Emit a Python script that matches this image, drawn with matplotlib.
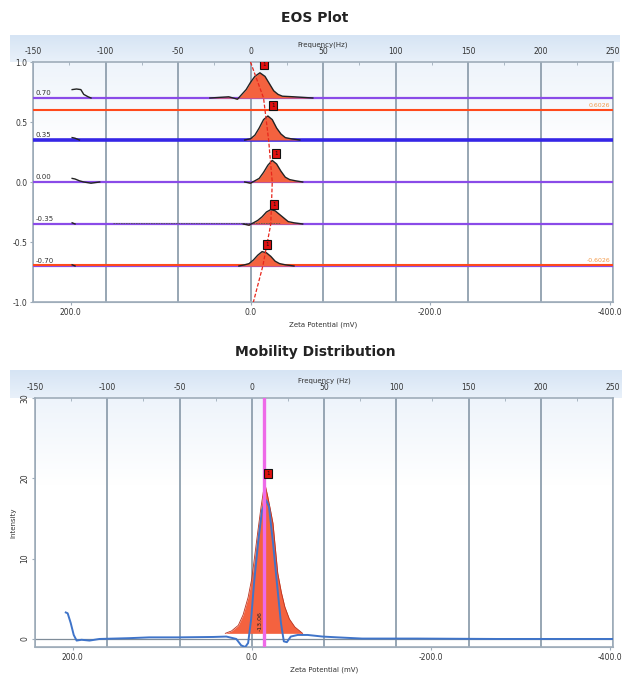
import numpy as np
import matplotlib.pyplot as plt
from matplotlib.colors import LinearSegmentedColormap

plt.rcParams["axes.unicode_minus"] = False

# frequency (Hz) per zeta potential (mV) (sign flips)
HZ_PER_MV = 0.62

# ---- EOS plot data ----
eos_levels = [0.70, 0.35, 0.00, -0.35, -0.70]
eos_level_labels = ["0.70", "0.35", "0.00", "-0.35", "-0.70"]

eos_peak_freq = [
    [-28, -15, -9, -6, -3, 0, 3, 6.5, 10, 13, 16, 19, 22, 30, 43],
    [-4, 0, 3, 6, 9, 12, 15, 18, 21, 24, 28, 34],
    [-4, 0, 3, 6, 9, 12, 15, 18, 21, 24, 27, 31, 36],
    [-5, -1, 2, 5, 8, 11, 14, 17, 20, 23, 26, 30, 36],
    [-8, -4, -1, 2, 5, 8, 11, 14, 17, 20, 24, 30],
]
eos_peak_height = [
    [0.0, 0.01, -0.01, 0.03, 0.07, 0.13, 0.18, 0.21, 0.18, 0.12, 0.06, 0.03, 0.015, 0.01, 0.0],
    [0.0, 0.01, 0.04, 0.10, 0.17, 0.20, 0.17, 0.10, 0.05, 0.02, 0.01, 0.0],
    [0.0, -0.01, 0.01, 0.03, 0.08, 0.14, 0.18, 0.15, 0.09, 0.04, 0.02, 0.01, 0.0],
    [0.0, -0.01, 0.01, 0.03, 0.06, 0.10, 0.12, 0.11, 0.08, 0.05, 0.02, 0.01, 0.0],
    [0.0, 0.01, 0.02, 0.05, 0.09, 0.12, 0.11, 0.08, 0.04, 0.02, 0.01, 0.0],
]
# small noise traces at the far left of each level
eos_noise_freq = [
    [-123, -120, -117, -115, -112, -110],
    [-123, -121, -118],
    [-123, -121, -118, -115, -110, -104],
    [-123, -121],
    [-123, -121],
]
eos_noise_height = [
    [0.07, 0.075, 0.07, 0.03, 0.01, 0.0],
    [0.02, 0.015, 0.0],
    [0.03, 0.025, 0.01, 0.0, -0.01, 0.0],
    [0.01, 0.0],
    [0.01, 0.0],
]
# red dashed line through the peak positions
eos_fit_freq = [0, 9, 12.5, 15, 14, 8.5, 2]
eos_fit_y = [1.0, 0.70, 0.35, 0.0, -0.35, -0.70, -1.0]
# peak markers
eos_box_freq = [9.3, 15.5, 17.6, 16.2, 11.4]
eos_box_y = [0.98, 0.64, 0.24, -0.19, -0.52]
# red reference lines and their labels
ref_line_y = [0.6026, -0.69]
ref_labels = ["0.6026", "-0.6026"]

# ---- Mobility distribution data ----
mob_freq = [-128.7, -127.4, -125.3, -123.2, -121.2, -117.8, -112.3, -105.4, -95, -84.8,
            -71, -50.5, -26.5, -17.6, -10.7, -7.3, -4.5, -2.5, -0.4, 1.6, 4.4, 7.1,
            9.9, 11.9, 14.7, 17.4, 20.2, 22.2, 24.3, 27, 31.8, 38.7, 49, 59.3, 76.4,
            114, 169, 250]
mob_intensity = [3.3, 3.2, 2.0, 0.5, -0.2, -0.1, -0.2, 0.0, 0.05, 0.1,
                 0.2, 0.2, 0.25, 0.3, 0.0, -0.8, -1.0, -0.5, 2.5, 7.0, 12.0, 16.0,
                 17.3, 16.5, 12.0, 7.0, 2.0, -0.3, -0.4, 0.3, 0.5, 0.5, 0.3, 0.2, 0.05,
                 0.05, 0.0, 0.0]
peak_freq = [-18.3, -14, -9.3, -6, -2.5, 0, 2.3, 4.5, 6.4, 8, 9.5, 11, 13, 14.7,
             16.5, 18, 20.5, 22.9, 26, 29.8, 35.2]
peak_intensity = [0.7, 1.0, 1.7, 3.0, 5.2, 7.5, 10.7, 13.8, 16.4, 18.3, 19.0, 17.8,
                  16.0, 14.4, 11.0, 8.2, 5.8, 4.0, 2.5, 1.5, 0.7]
peak_base = 0.7
mean_freq = 8.3
mean_label = "-13.06"
mob_box = (11.2, 20.6)

freq_ticks = [-150, -100, -50, 0, 50, 100, 150, 200, 250]
zeta_ticks = [200, 0, -200, -400]

GRID = "#8f9fae"
SPINE = "#9fadba"
TXT = "#333333"


def gradient_axes(fig, rect, top, bottom, stop=1.0):
    bg = fig.add_axes(rect)
    cmap = LinearSegmentedColormap.from_list("g", [top, bottom])
    col = np.clip(np.linspace(0, 1, 200) / stop, 0, 1).reshape(-1, 1)
    bg.imshow(col, cmap=cmap, aspect="auto", extent=[0, 1, 0, 1], vmin=0, vmax=1)
    bg.set_axis_off()
    return bg


def px_rect(x0, y0, x1, y1):
    return [x0 / 622, 1 - y1 / 675, (x1 - x0) / 622, (y1 - y0) / 675]


def style_axes(ax, freq_label):
    ax.set_xlim(-150, 250)
    ax.set_facecolor("none")
    ax.xaxis.tick_top()
    ax.xaxis.set_label_position("top")
    ax.set_xticks(freq_ticks)
    ax.set_xticks(np.arange(-125, 250, 50), minor=True)
    ax.set_xlabel(freq_label, fontsize=5, labelpad=0.5, color=TXT)
    ax.tick_params(axis="x", which="major", length=0, pad=4, labelsize=5.5, labelcolor=TXT)
    ax.tick_params(axis="x", which="minor", length=2, direction="in", color=SPINE)
    ax.tick_params(axis="y", length=2, color=SPINE, labelsize=5.5, labelcolor=TXT, pad=2)
    ax.grid(axis="x", which="major", color=GRID, lw=1.3)
    for s in ax.spines.values():
        s.set_color(SPINE)
        s.set_linewidth(1.2)
    sec = ax.secondary_xaxis("bottom", functions=(lambda f: -f / HZ_PER_MV,
                                                 lambda z: -z * HZ_PER_MV))
    sec.set_xticks(zeta_ticks)
    sec.set_xticklabels([f"{z:.1f}" for z in zeta_ticks])
    sec.tick_params(length=2.5, color=SPINE, labelsize=5.5, labelcolor=TXT, pad=2)
    sec.spines["bottom"].set_color(SPINE)
    sec.set_xlabel("Zeta Potential (mV)", fontsize=5, labelpad=3, color=TXT)


fig = plt.figure(figsize=(6.22, 6.75), dpi=100)

# header bands and plot-area shading
gradient_axes(fig, px_rect(10, 35, 620, 62), "#d6e4f4", "#e9f1fa")
gradient_axes(fig, px_rect(33, 62, 613, 302), "#eef4fb", "#ffffff", stop=0.35)
gradient_axes(fig, px_rect(10, 370, 622, 398), "#d6e4f4", "#e9f1fa")
gradient_axes(fig, px_rect(35, 398, 613, 647), "#eef4fb", "#ffffff", stop=0.35)

fig.text(315 / 622, 1 - 18 / 675, "EOS Plot", ha="center", va="center",
         fontsize=10, fontweight="bold", color="#222222")
fig.text(315 / 622, 1 - 352 / 675, "Mobility Distribution", ha="center", va="center",
         fontsize=10, fontweight="bold", color="#222222")

# ---------------- EOS plot ----------------
ax1 = fig.add_axes(px_rect(33, 62, 613, 302))
style_axes(ax1, "Frequency(Hz)")
ax1.set_ylim(-1.0, 1.0)
ax1.set_yticks([-1.0, -0.5, 0.0, 0.5, 1.0])
ax1.set_yticklabels(["-1.0", "-0.5", "0.0", "0.5", "1.0"])

level_colors = ["#8a4be8", "#3526e6", "#8a4be8", "#8a4be8", "#8a4be8"]
level_widths = [1.6, 2.6, 1.6, 1.6, 1.6]
for i, lev in enumerate(eos_levels):
    ax1.axhline(lev, color=level_colors[i], lw=level_widths[i], zorder=3)
    ax1.text(-148, lev + 0.015, eos_level_labels[i], fontsize=5, color=TXT,
             ha="left", va="bottom", zorder=6)
    f = np.array(eos_peak_freq[i])
    h = lev + np.array(eos_peak_height[i])
    ax1.fill_between(f, lev, h, color="#f4623f", lw=0, zorder=4)
    ax1.plot(f, h, color="#222222", lw=1.0, zorder=5)
    ax1.plot(eos_noise_freq[i], lev + np.array(eos_noise_height[i]),
             color="#222222", lw=1.0, zorder=5)
ax1.plot([-95, 20], [-0.34, -0.34], color="#555555", lw=0.6, ls=(0, (2, 1)), zorder=4)

for y, lab in zip(ref_line_y, ref_labels):
    ax1.axhline(y, color="#ff4a1c", lw=1.5, zorder=3.5)
    ax1.text(248, y + 0.015, lab, fontsize=4.5, color="#f39a4a", ha="right",
             va="bottom", zorder=6)

ax1.plot(eos_fit_freq, eos_fit_y, color="#e8261c", lw=0.9, ls=(0, (3, 1.5)), zorder=6)
for f, y in zip(eos_box_freq, eos_box_y):
    ax1.text(f, y, "1", fontsize=4, color="#111111", ha="center", va="center",
             zorder=7, clip_on=True,
             bbox=dict(boxstyle="square,pad=0.35", fc="#e01010", ec="#111111", lw=0.8))

# ---------------- Mobility distribution ----------------
ax2 = fig.add_axes(px_rect(35, 398, 613, 647))
style_axes(ax2, "Frequency (Hz)")
ax2.set_ylim(-1.0, 30)
ax2.set_yticks([0, 10, 20, 30])
ax2.set_yticklabels(["0", "10", "20", "30"], rotation=90, va="center")
ax2.set_ylabel("Intensity", fontsize=5, labelpad=3, color=TXT)

ax2.axhline(0, color="#7f8c99", lw=0.9, zorder=2)
ax2.fill_between(peak_freq, peak_base, peak_intensity, color="#f4623f", lw=0, zorder=3)
ax2.plot(peak_freq, peak_intensity, color="#b8321f", lw=0.6, zorder=3)
ax2.plot(mob_freq, mob_intensity, color="#3f74c9", lw=1.4, zorder=4)
ax2.axvline(mean_freq, color="#ee6ae8", lw=2.4, zorder=5)
ax2.text(mean_freq - 2.2, 2.2, mean_label, rotation=90, fontsize=4.5, color="#222222",
         ha="center", va="center", zorder=6)
ax2.text(mob_box[0], mob_box[1], "1", fontsize=4, color="#111111", ha="center",
         va="center", zorder=7,
         bbox=dict(boxstyle="square,pad=0.35", fc="#e01010", ec="#111111", lw=0.8))

fig.savefig("out.png", dpi=100)
